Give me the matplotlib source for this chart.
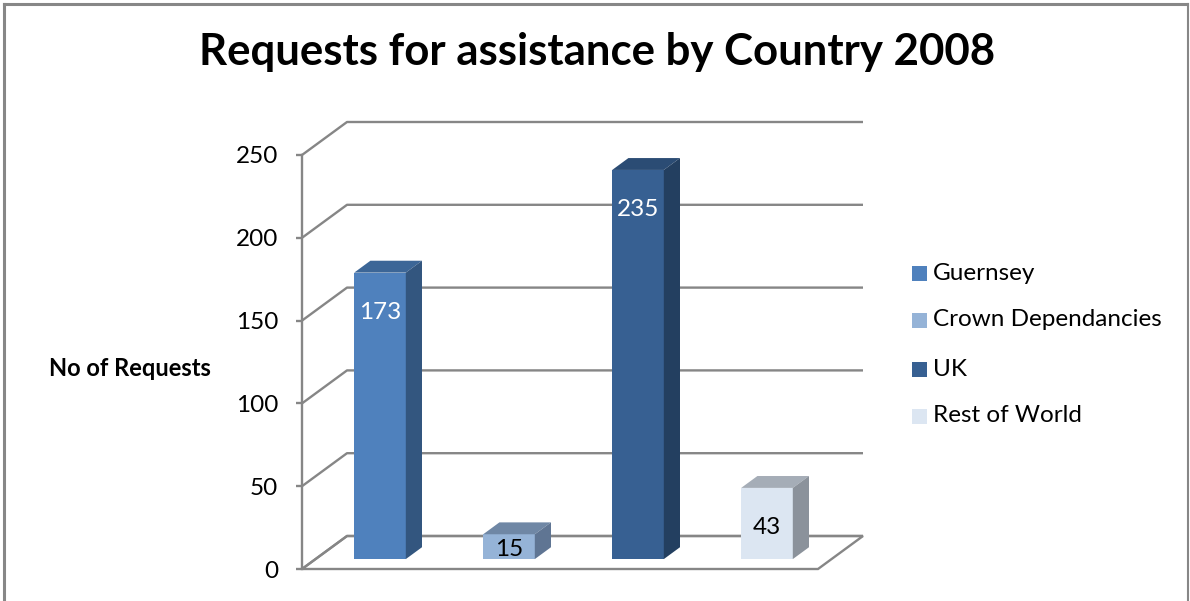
import matplotlib
matplotlib.use("Agg")
import matplotlib.pyplot as plt
from matplotlib.patches import Polygon, Rectangle
from matplotlib.lines import Line2D

plt.rcParams['font.family'] = ['Lato', 'DejaVu Sans']

# ---- data ----
categories = ["Guernsey", "Crown Dependancies", "UK", "Rest of World"]
values = [173, 15, 235, 43]
yticks = [0, 50, 100, 150, 200, 250]
title = "Requests for assistance by Country 2008"
ylabel = "No of Requests"

front_colors = ["#4F81BD", "#95B3D7", "#376092", "#DCE6F2"]
top_colors = ["#3C6697", "#6F87A5", "#2B4C74", "#A5ADB7"]
side_colors = ["#33567F", "#5F7593", "#233F60", "#8B929B"]
label_colors = ["white", "black", "white", "black"]

W, H = 1190, 601
fig = plt.figure(figsize=(W / 100, H / 100), dpi=100)

# pixel geometry of the plot area
PX0, PY0 = 302, 569        # front-left, value 0
CAT_PX = 129               # px per category
VAL_PX = 1.656             # px per unit value
AL, AR, AT, AB = 290, 880, 110, 580

def X(px):
    return (px - PX0) / CAT_PX

def Y(py):
    return (PY0 - py) / VAL_PX

ax = fig.add_axes([AL / W, 1 - AB / H, (AR - AL) / W, (AB - AT) / H])
ax.set_xlim(X(AL), X(AR))
ax.set_ylim(Y(AB), Y(AT))

DX = 45 / CAT_PX
DY = 33 / VAL_PX
f0, fb = 0.30, 0.36
w = 0.40
grid_c = "#868686"
glw = 1.7
n = len(categories)

# floor
ax.add_patch(Polygon([(0, 0), (n, 0), (n + DX, DY), (DX, DY)], closed=True,
                     fill=False, edgecolor=grid_c, lw=glw, zorder=1))
# back wall gridlines
for t in yticks:
    ax.plot([0, DX, n + DX], [t, t + DY, t + DY], color=grid_c, lw=glw,
            zorder=1, solid_capstyle='butt')

# bars
x0s = [i + 0.5 - w / 2 + f0 * DX for i in range(n)]
y0 = f0 * DY
ax.bar(x0s, values, width=w, bottom=y0, align='edge', color=front_colors,
       edgecolor='none', zorder=3)
for i, v in enumerate(values):
    x0 = x0s[i]
    top = [(x0, y0 + v), (x0 + w, y0 + v), (x0 + w + fb * DX, y0 + v + fb * DY),
           (x0 + fb * DX, y0 + v + fb * DY)]
    side = [(x0 + w, y0), (x0 + w + fb * DX, y0 + fb * DY),
            (x0 + w + fb * DX, y0 + v + fb * DY), (x0 + w, y0 + v)]
    ax.add_patch(Polygon(top, closed=True, facecolor=top_colors[i],
                         edgecolor='none', zorder=3))
    ax.add_patch(Polygon(side, closed=True, facecolor=side_colors[i],
                         edgecolor='none', zorder=3))
    ly = max(v - 24, v * 0.4)
    ax.text(x0 + w / 2, y0 + ly, str(v), ha='center', va='center',
            fontsize=17.5, color=label_colors[i], zorder=4)

# axis
for s in ['top', 'right', 'bottom']:
    ax.spines[s].set_visible(False)
ax.spines['left'].set_position(('data', 0))
ax.spines['left'].set_bounds(0, yticks[-1])
ax.spines['left'].set_color(grid_c)
ax.spines['left'].set_linewidth(glw)
ax.set_yticks(yticks)
ax.set_yticklabels([str(t) for t in yticks], fontsize=17.5)
ax.tick_params(axis='y', length=4.3, width=glw, color=grid_c, pad=13)
ax.set_xticks([])
ax.patch.set_visible(False)

# title and y label
fig.text(597 / W, 1 - 52 / H, title, ha='center', va='center',
         fontsize=31.5, fontweight='bold')
fig.text(130 / W, 1 - 368 / H, ylabel, ha='center', va='center',
         fontsize=17, fontweight='bold')

# legend (manual)
leg_y = [273, 320, 369, 416]
for i, cat in enumerate(categories):
    fig.patches.append(Rectangle(((912) / W, 1 - (leg_y[i] + 7.5) / H), 15 / W, 15 / H,
                                 transform=fig.transFigure, facecolor=front_colors[i],
                                 edgecolor='none'))
    fig.text(933 / W, 1 - leg_y[i] / H, cat, ha='left', va='center', fontsize=17.5)

# chart border
bc = "#878787"
fig.add_artist(Line2D([3.5 / W, 1186.5 / W], [1 - 3.5 / H, 1 - 3.5 / H], color=bc, lw=2.2))
fig.add_artist(Line2D([3.5 / W, 3.5 / W], [0, 1 - 3.5 / H], color=bc, lw=2.2))
fig.add_artist(Line2D([1188 / W, 1188 / W], [0, 1 - 3.5 / H], color=bc, lw=1.5))

fig.savefig("out.png", dpi=100)
